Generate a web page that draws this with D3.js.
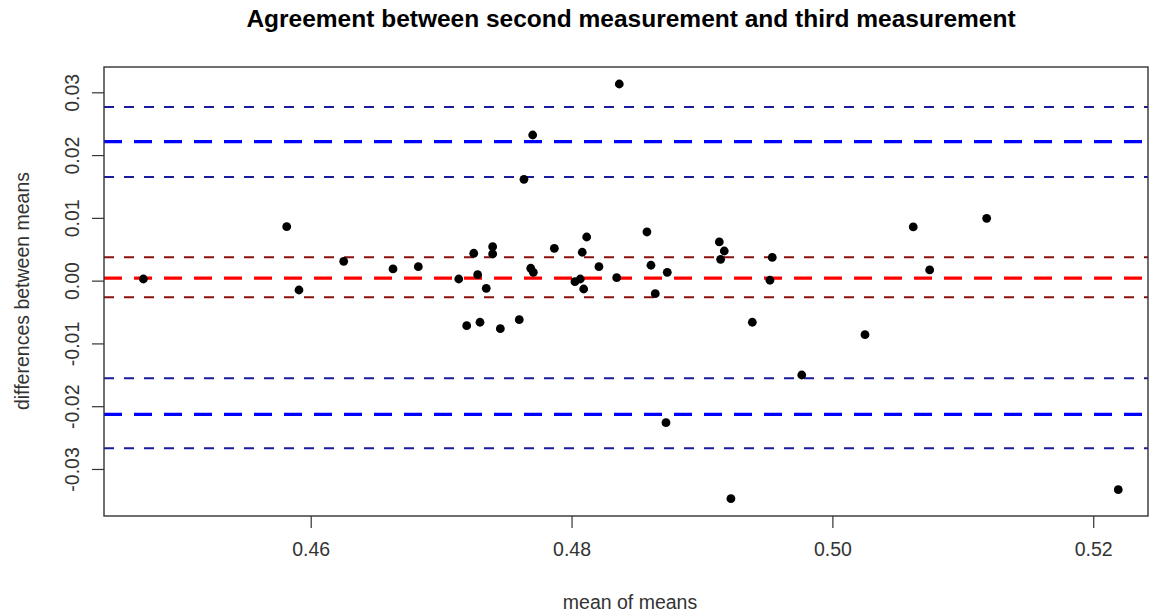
<!DOCTYPE html>
<html>
<head>
<meta charset="utf-8">
<script src="https://cdn.jsdelivr.net/npm/d3@7"></script>
<style>
  html, body { margin: 0; padding: 0; background: #fff; }
  svg { display: block; font-family: "Liberation Sans", Arial, sans-serif; }
</style>
</head>
<body>
<svg id="chart" width="1150" height="616"></svg>
<script>
// Bland–Altman style agreement plot: mean of the two measurements vs their difference
const meanOfMeans = [
  0.44717, 0.45816, 0.45910, 0.46253, 0.46631, 0.46825, 0.47135, 0.47250,
  0.47280, 0.47346, 0.47196, 0.47298, 0.47395, 0.47395, 0.47454, 0.47599,
  0.47635, 0.47702, 0.47687, 0.47707, 0.47868, 0.48026, 0.48067, 0.48093,
  0.48082, 0.48116, 0.48210, 0.48346, 0.48366, 0.48578, 0.48609, 0.48642,
  0.48734, 0.48724, 0.49133, 0.49171, 0.49143, 0.49222, 0.49386, 0.49521,
  0.49539, 0.49765, 0.50250, 0.50620, 0.50746, 0.51183, 0.52192
];
const diffOfMeans = [
  0.00026, 0.00859, -0.00149, 0.00308, 0.00186, 0.00222, 0.00026, 0.00436,
  0.00095, -0.00122, -0.00718, -0.00663, 0.00541, 0.00425, -0.00765, -0.00622,
  0.01614, 0.02320, 0.00197, 0.00133, 0.00515, -0.00017, 0.00026, -0.00133,
  0.00452, 0.00695, 0.00222, 0.00047, 0.03132, 0.00775, 0.00245, -0.00208,
  0.00133, -0.02263, 0.00616, 0.00472, 0.00340, -0.03473, -0.00663, 0.00006,
  0.00369, -0.01503, -0.00861, 0.00855, 0.00170, 0.00993, -0.03330
];

// Reference lines: bias, limits of agreement and their confidence bounds
const biasLine = [0.00040];
const biasCI = [0.00372, -0.00265];
const limitsOfAgreement = [0.02213, -0.02129];
const limitsCI = [0.02766, 0.01651, -0.01556, -0.02671];

const xTicks = [0.46, 0.48, 0.50, 0.52];
const yTicks = [0.03, 0.02, 0.01, 0.00, -0.01, -0.02, -0.03];

const titleText = "Agreement between second measurement and third measurement";
const xLabel = "mean of means";
const yLabel = "differences between means";

const svg = d3.select("#chart");
const plot = { left: 104, right: 1148, top: 67, bottom: 516 };
const labelSize = 19.5;
const fmt = d => d.toFixed(2);   // plain hyphen for negative values

const x = d3.scaleLinear().domain([0.44415, 0.52420]).range([plot.left, plot.right]);
const y = d3.scaleLinear().domain([-0.03749, 0.03403]).range([plot.bottom, plot.top]);

svg.append("defs").append("clipPath").attr("id", "plotClip")
  .append("rect")
  .attr("x", plot.left).attr("y", plot.top)
  .attr("width", plot.right - plot.left).attr("height", plot.bottom - plot.top);

const lines = svg.append("g").attr("clip-path", "url(#plotClip)");

function hline(values, color, width, dash) {
  lines.selectAll(null).data(values).enter().append("line")
    .attr("x1", plot.left).attr("x2", plot.right)
    .attr("y1", d => y(d)).attr("y2", d => y(d))
    .attr("stroke", color).attr("stroke-width", width)
    .attr("stroke-dasharray", dash);
}

hline(limitsCI, "#1a1a9c", 2, "10 10");
hline(biasCI, "#8b0f0f", 2, "10 10");
hline(limitsOfAgreement, "#0000ff", 3.2, "18 12");
hline(biasLine, "#ff0000", 3.2, "18 12");

// Points
svg.append("g").selectAll("circle")
  .data(meanOfMeans.map((m, i) => [m, diffOfMeans[i]]))
  .enter().append("circle")
  .attr("cx", d => x(d[0])).attr("cy", d => y(d[1]))
  .attr("r", 4.4).attr("fill", "#000");

// Plot frame
svg.append("rect")
  .attr("x", plot.left).attr("y", plot.top)
  .attr("width", plot.right - plot.left).attr("height", plot.bottom - plot.top)
  .attr("fill", "none").attr("stroke", "#333").attr("stroke-width", 1.4);

// X axis
const xAxis = svg.append("g")
  .attr("transform", `translate(0,${plot.bottom})`)
  .call(d3.axisBottom(x).tickValues(xTicks).tickFormat(fmt).tickSize(12).tickPadding(14));
xAxis.select(".domain").remove();
xAxis.selectAll(".tick line").attr("stroke", "#333").attr("stroke-width", 1.2);
xAxis.selectAll(".tick text").attr("font-size", labelSize).attr("fill", "#333")
  .attr("font-family", "Liberation Sans, Arial, sans-serif");

// Y axis with rotated tick labels
const yAxis = svg.append("g")
  .attr("transform", `translate(${plot.left},0)`)
  .call(d3.axisLeft(y).tickValues(yTicks).tickFormat(fmt).tickSize(12));
yAxis.select(".domain").remove();
yAxis.selectAll(".tick line").attr("stroke", "#333").attr("stroke-width", 1.2);
yAxis.selectAll(".tick text")
  .attr("font-size", labelSize).attr("fill", "#333")
  .attr("font-family", "Liberation Sans, Arial, sans-serif")
  .attr("x", null).attr("dy", null)
  .attr("text-anchor", "middle")
  .attr("transform", "translate(-32,0) rotate(-90)")
  .attr("dominant-baseline", "central");

// Titles
svg.append("text")
  .attr("x", 631).attr("y", 27)
  .attr("text-anchor", "middle")
  .attr("font-size", 24.5).attr("font-weight", "bold").attr("fill", "#000")
  .text(titleText);

svg.append("text")
  .attr("x", 630).attr("y", 609)
  .attr("text-anchor", "middle")
  .attr("font-size", labelSize).attr("fill", "#333")
  .text(xLabel);

svg.append("text")
  .attr("transform", "translate(22,291) rotate(-90)")
  .attr("text-anchor", "middle")
  .attr("dominant-baseline", "central")
  .attr("font-size", labelSize).attr("fill", "#333")
  .text(yLabel);
</script>
</body>
</html>
